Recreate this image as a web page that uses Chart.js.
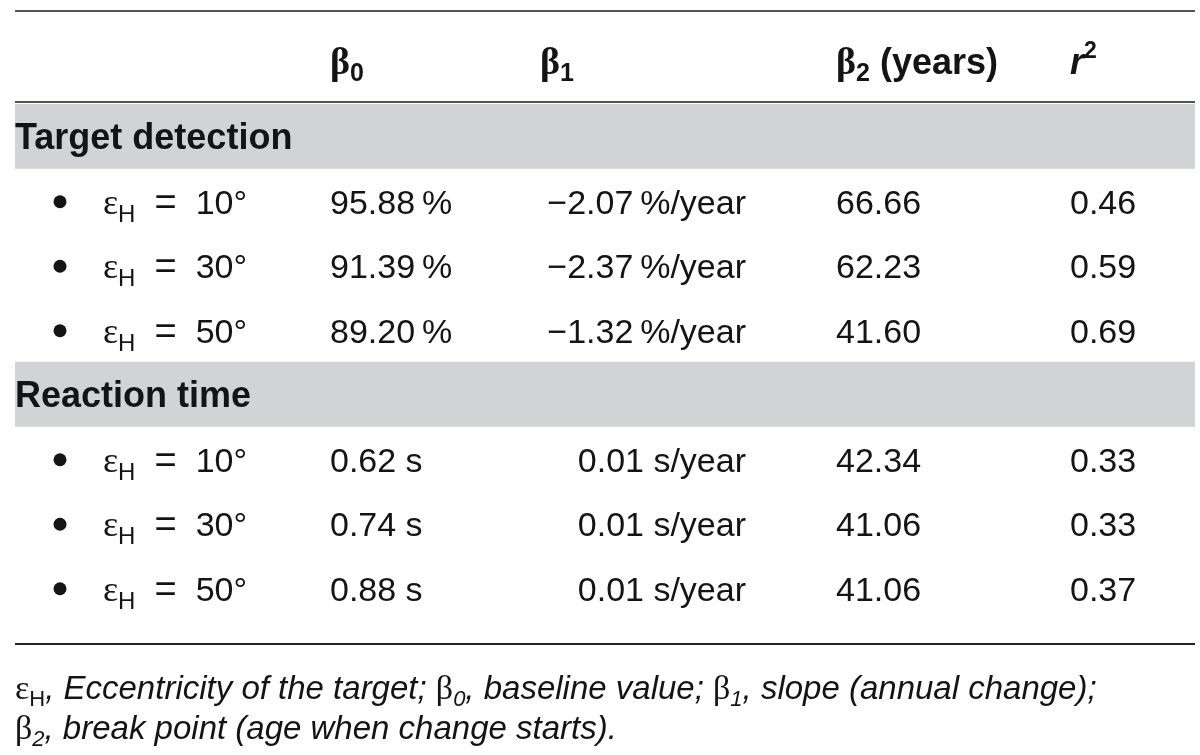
<!DOCTYPE html>
<html>
<head>
<meta charset="utf-8">
<script src="https://cdn.jsdelivr.net/npm/chart.js@4.4.1/dist/chart.umd.min.js"></script>
<style>
  body { margin: 0; background: #fff; }
  canvas { display: block; }
</style>
</head>
<body>
<canvas id="table" width="1200" height="755"></canvas>
<script>
// table content
const sections = ["Target detection", "Reaction time"];
const eccentricities = [10, 30, 50];

const beta0Detection = [95.88, 91.39, 89.20];
const beta1Detection = [-2.07, -2.37, -1.32];
const beta2Detection = [66.66, 62.23, 41.60];
const r2Detection = [0.46, 0.59, 0.69];

const beta0Reaction = [0.62, 0.74, 0.88];
const beta1Reaction = [0.01, 0.01, 0.01];
const beta2Reaction = [42.34, 41.06, 41.06];
const r2Reaction = [0.33, 0.33, 0.37];

const beta0 = [beta0Detection, beta0Reaction];
const beta1 = [beta1Detection, beta1Reaction];
const beta2 = [beta2Detection, beta2Reaction];
const r2 = [r2Detection, r2Reaction];

// one category per table row
const rowLabels = sections.flatMap((s) => [s, ...eccentricities.map((e) => "εH = " + e + "°")]);
const isSection = rowLabels.map((l) => sections.includes(l));

const SANS = '"Liberation Sans", Arial, sans-serif';
const SERIF = '"Liberation Serif", "DejaVu Serif", serif';
const INK = "#141414";
const RULE = "#555";

const fmtPct = (v) => v.toFixed(2) + "\u2009%";
const fmtSlopePct = (v) => (v < 0 ? "\u2212" : "") + Math.abs(v).toFixed(2) + "\u2009%/year";
const fmt = [
  { b0: fmtPct, b1: fmtSlopePct },
  { b0: (v) => v.toFixed(2) + " s", b1: (v) => v.toFixed(2) + " s/year" },
];

// draw a run of text pieces with their own fonts / shifts
function drawRich(ctx, parts, x, y, align) {
  let w = 0;
  parts.forEach((p) => { ctx.font = p.f; p.w = ctx.measureText(p.t).width; w += p.w; });
  let cx = align === "right" ? x - w : x;
  ctx.textAlign = "left";
  ctx.textBaseline = "alphabetic";
  parts.forEach((p) => { ctx.font = p.f; ctx.fillText(p.t, cx, y + (p.dy || 0)); cx += p.w; });
}

const tablePlugin = {
  id: "tableText",
  afterDatasetsDraw(chart) {
    const { ctx, chartArea: a, scales: { x, y } } = chart;
    ctx.save();

    // rules
    ctx.fillStyle = RULE;
    ctx.fillRect(a.left, a.top - 94, a.width, 2);
    ctx.fillRect(a.left, a.top - 3, a.width, 2);
    ctx.fillStyle = "#222";
    ctx.fillRect(a.left, a.bottom + 23, a.width, 2);
    ctx.fillStyle = INK;

    // header
    const hy = a.top - 30;
    const hb = "bold 36px " + SANS, hg = "bold 38px " + SERIF, hs = "bold 25px " + SANS;
    drawRich(ctx, [{ t: "β", f: hg }, { t: "0", f: hs, dy: 7 }], x.getPixelForValue(315), hy);
    drawRich(ctx, [{ t: "β", f: hg }, { t: "1", f: hs, dy: 7 }], x.getPixelForValue(525), hy);
    drawRich(ctx, [{ t: "β", f: hg }, { t: "2", f: hs, dy: 7 }, { t: " (years)", f: hb }], x.getPixelForValue(821), hy);
    drawRich(ctx, [{ t: "r", f: "italic bold 36px " + SANS }, { t: "2", f: "bold 23px " + SANS, dy: -16 }], x.getPixelForValue(1055), hy);

    // body rows
    const body = "34px " + SANS;
    rowLabels.forEach((label, i) => {
      const by = y.getPixelForValue(i) + 13;
      if (isSection[i]) {
        drawRich(ctx, [{ t: label, f: "bold 36px " + SANS }], x.getPixelForValue(0), by);
        return;
      }
      const s = Math.floor(i / 4), k = (i % 4) - 1;
      ctx.beginPath();
      ctx.arc(x.getPixelForValue(45), by - 12, 6.5, 0, Math.PI * 2);
      ctx.fill();
      drawRich(ctx, [
        { t: "ε", f: "36px " + SERIF },
        { t: "H", f: "24px " + SANS, dy: 8 },
        { t: "\u2002=\u2002", f: "38px " + SANS, dy: 1 },
        { t: eccentricities[k] + "°", f: body },
      ], x.getPixelForValue(88), by);
      drawRich(ctx, [{ t: fmt[s].b0(beta0[s][k]), f: body }], x.getPixelForValue(315), by);
      drawRich(ctx, [{ t: fmt[s].b1(beta1[s][k]), f: body }], x.getPixelForValue(731), by, "right");
      drawRich(ctx, [{ t: beta2[s][k].toFixed(2), f: body }], x.getPixelForValue(821), by);
      drawRich(ctx, [{ t: r2[s][k].toFixed(2), f: body }], x.getPixelForValue(1055), by);
    });

    // footnote
    const fi = "italic 33px " + SANS, fg = "34px " + SERIF, fsI = "italic 22px " + SANS, fsH = "22px " + SANS;
    const fx = x.getPixelForValue(0);
    drawRich(ctx, [
      { t: "ε", f: fg }, { t: "H", f: fsH, dy: 7 }, { t: ", Eccentricity of the target; ", f: fi },
      { t: "β", f: fg }, { t: "0", f: fsI, dy: 7 }, { t: ", baseline value; ", f: fi },
      { t: "β", f: fg }, { t: "1", f: fsI, dy: 7 }, { t: ", slope (annual change);", f: fi },
    ], fx, a.bottom + 79);
    drawRich(ctx, [
      { t: "β", f: fg }, { t: "2", f: fsI, dy: 7 }, { t: ", break point (age when change starts).", f: fi },
    ], fx, a.bottom + 119);
    ctx.restore();
  },
};

new Chart(document.getElementById("table"), {
  type: "bar",
  data: {
    labels: rowLabels,
    datasets: [{
      label: "sections",
      data: rowLabels.map((_, i) => (isSection[i] ? [0, 1180] : null)),
      backgroundColor: "#d1d3d4",
      borderWidth: 0,
      barPercentage: 1,
      categoryPercentage: 1,
    }],
  },
  options: {
    indexAxis: "y",
    responsive: false,
    animation: false,
    layout: { padding: { top: 104, bottom: 135, left: 15, right: 5 } },
    plugins: { legend: { display: false }, tooltip: { enabled: false } },
    scales: {
      x: { type: "linear", min: 0, max: 1180, display: false },
      y: { type: "category", display: false, offset: true },
    },
  },
  plugins: [tablePlugin],
});
</script>
</body>
</html>
